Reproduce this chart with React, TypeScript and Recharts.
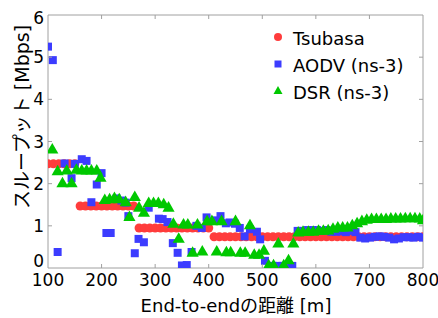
import React from "react";
import { ScatterChart, Scatter, XAxis, YAxis, ReferenceLine } from "recharts";

// ---------- data ----------
const tsubasaX = [
  100, 110, 120, 130, 140, 150, 160, 170, 180, 190, 200, 210, 220, 230, 240, 250, 260, 270, 280, 290,
  300, 310, 320, 330, 340, 350, 360, 370, 380, 390, 400, 410, 420, 430, 440, 450, 460, 470, 480, 490,
  500, 510, 520, 530, 540, 550, 560, 570, 580, 590, 600, 610, 620, 630, 640, 650, 660, 670, 680, 690,
  700, 710, 720, 730, 740, 750, 760, 770, 780, 790, 800,
];
const tsubasaY = [
  2.47, 2.47, 2.47, 2.47, 2.47, 2.47, 1.47, 1.47, 1.47, 1.47, 1.47, 1.47, 1.47, 1.47, 1.47, 1.47, 1.47, 0.95, 0.95, 0.95,
  0.95, 0.95, 0.95, 0.95, 0.95, 0.95, 0.95, 0.95, 0.95, 0.95, 0.95, 0.74, 0.74, 0.74, 0.74, 0.74, 0.74, 0.74, 0.74, 0.74,
  0.74, 0.74, 0.74, 0.74, 0.74, 0.74, 0.74, 0.74, 0.74, 0.74, 0.74, 0.74, 0.74, 0.74, 0.74, 0.74, 0.74, 0.74, 0.74, 0.74,
  0.74, 0.74, 0.74, 0.74, 0.74, 0.74, 0.74, 0.74, 0.74, 0.74, 0.74,
];

const aodvX = [
  100, 109, 118, 131, 144, 150, 163, 172, 181, 191, 200, 209, 217, 228, 237, 245, 250, 262, 269, 279,
  288, 307, 314, 323, 333, 342, 350, 359, 368, 377, 387, 396, 413, 422, 432, 439, 449, 458, 467, 477,
  490, 496, 505, 520, 529, 538, 547, 556, 566, 575, 584, 593, 602, 611, 620, 629, 638, 647, 656, 665,
  674, 683, 692, 701, 710, 719, 728, 737, 746, 755, 764, 773, 782, 791, 800,
];
const aodvY = [
  5.25, 4.93, 0.38, 2.48, 2.13, 2.47, 2.58, 2.54, 1.56, 1.98, 2.25, 0.83, 0.83, 1.65, 1.6, 1.55, 1.23, 0.35, 0.69, 0.61,
  1.43, 1.17, 1.16, 1.09, 0.59, 0.36, 0.06, 0.07, 0.38, 1.0, 0.95, 1.2, 1.13, 1.23, 1.06, 1.08, 1.05, 0.95, 0.75, 0.92,
  0.86, 0.68, 0.17, 0.05, 0.05, 0.05, 0.05, 0.05, 0.88, 0.88, 0.9, 0.9, 0.9, 0.88, 0.9, 0.86, 0.86, 0.87, 0.85, 0.88,
  0.85, 0.72, 0.7, 0.72, 0.74, 0.75, 0.74, 0.72, 0.68, 0.7, 0.73, 0.73, 0.72, 0.74, 0.72,
];

const dsrX = [
  108, 118, 127, 135, 144, 153, 163, 172, 181, 191, 198, 206, 215, 224, 233, 245, 252, 262, 270, 279,
  288, 297, 306, 316, 325, 334, 344, 353, 361, 370, 379, 388, 397, 406, 415, 424, 433, 441, 450, 459,
  468, 477, 485, 494, 503, 512, 521, 530, 540, 549, 558, 567, 576, 586, 595, 605, 614, 623, 632, 641,
  650, 659, 668, 677, 686, 695, 704, 713, 722, 731, 740, 749, 758, 767, 776, 785, 794, 800,
];
const dsrY = [
  2.8, 2.28, 2.0, 2.3, 2.0, 2.32, 2.3, 2.3, 2.3, 2.3, 2.13, 1.6, 1.62, 1.65, 1.62, 1.55, 1.2, 1.67, 1.42, 1.3,
  1.53, 1.53, 1.53, 1.5, 1.42, 1.04, 0.68, 1.02, 1.02, 0.35, 1.02, 0.38, 1.1, 1.1, 0.38, 1.1, 0.36, 0.36, 1.1, 0.35,
  0.35, 1.0, 0.3, 0.3, 0.4, 0.05, 0.05, 0.57, 0.05, 0.17, 0.57, 0.83, 0.85, 0.85, 0.85, 0.87, 0.87, 0.88, 0.92, 0.95,
  0.95, 0.95, 1.0, 1.05, 1.1, 1.13, 1.15, 1.15, 1.15, 1.15, 1.16, 1.16, 1.16, 1.17, 1.17, 1.17, 1.16, 1.12,
];

const xTicks = [100, 200, 300, 400, 500, 600, 700, 800];
const yTicks = [0, 1, 2, 3, 4, 5, 6];

const seriesNames = ["Tsubasa", "AODV (ns-3)", "DSR (ns-3)"];
const seriesColors = ["#ff3c3c", "#3c3cff", "#00c800"];

const toPoints = (xs: number[], ys: number[]) => xs.map((x, i) => ({ x, y: ys[i] }));
const tsubasaData = toPoints(tsubasaX, tsubasaY);
const aodvData = toPoints(aodvX, aodvY);
const dsrData = toPoints(dsrX, dsrY);

// ---------- layout ----------
const W = 438;
const H = 318;
const PLOT = { left: 48, right: 423, top: 15, bottom: 268 };
const FRAME = "#a0a0a0";
const FONT = "'DejaVu Sans', 'Noto Sans CJK JP', sans-serif";
const TICK_LEN = 4;

const XTick = (props: any) => {
  const { x, y, payload } = props;
  const v = payload.value;
  const edge = v === xTicks[0] || v === xTicks[xTicks.length - 1];
  return (
    <g>
      {!edge && (
        <>
          <line x1={x} x2={x} y1={PLOT.bottom} y2={PLOT.bottom - TICK_LEN} stroke={FRAME} />
          <line x1={x} x2={x} y1={PLOT.top} y2={PLOT.top + TICK_LEN} stroke={FRAME} />
        </>
      )}
      <text x={x} y={y} dy="0.71em" textAnchor="middle" fontSize={17} fill="#000" fontFamily={FONT}>
        {v}
      </text>
    </g>
  );
};

const YTick = (props: any) => {
  const { x, y, payload } = props;
  const v = payload.value;
  const edge = v === yTicks[0] || v === yTicks[yTicks.length - 1];
  const dyShift = v === 0 ? -7 : v === 6 ? 3 : 0;
  return (
    <g>
      {!edge && (
        <>
          <line x1={PLOT.left} x2={PLOT.left + TICK_LEN} y1={y} y2={y} stroke={FRAME} />
          <line x1={PLOT.right} x2={PLOT.right - TICK_LEN} y1={y} y2={y} stroke={FRAME} />
        </>
      )}
      <text x={x} y={y + dyShift} dy="0.36em" textAnchor="end" fontSize={17} fill="#000" fontFamily={FONT}>
        {v}
      </text>
    </g>
  );
};

const YLabel = () => (
  <text
    transform="translate(22,117) rotate(-90)"
    textAnchor="middle"
    dominantBaseline="central"
    fontSize={19}
    fontFamily={FONT}
    fill="#000"
  >
    スループット [Mbps]
  </text>
);

const XLabel = () => (
  <text x={236} y={312} textAnchor="middle" fontSize={18} fontFamily={FONT} fill="#000">
    End-to-endの距離 [m]
  </text>
);

const legendRows = [
  { cy: 38 },
  { cy: 65 },
  { cy: 92 },
];

export default function App() {
  return (
    <div style={{ position: "fixed", left: 0, top: 0, width: W, height: H, background: "#fff" }}>
      <ScatterChart
        width={W}
        height={H}
        margin={{ top: PLOT.top, right: W - PLOT.right, bottom: 0, left: 0 }}
        style={{ fontFamily: FONT }}
      >
        <XAxis
          dataKey="x"
          type="number"
          domain={[100, 800]}
          ticks={xTicks}
          allowDataOverflow
          height={H - PLOT.bottom}
          tickSize={0}
          tickMargin={6}
          tickLine={false}
          axisLine={{ stroke: FRAME }}
          tick={<XTick />}
          interval={0}
          label={<XLabel />}
        />
        <YAxis
          dataKey="y"
          type="number"
          domain={[0, 6]}
          ticks={yTicks}
          allowDataOverflow
          width={PLOT.left}
          tickSize={0}
          tickMargin={4}
          tickLine={false}
          axisLine={{ stroke: FRAME }}
          tick={<YTick />}
          interval={0}
          label={<YLabel />}
        />
        <ReferenceLine y={6} stroke={FRAME} />
        <ReferenceLine x={800} stroke={FRAME} />
        <Scatter
          name={seriesNames[0]}
          data={tsubasaData}
          fill={seriesColors[0]}
          shape="circle"
          legendType="circle"
          isAnimationActive={false}
        />
        <Scatter
          name={seriesNames[1]}
          data={aodvData}
          fill={seriesColors[1]}
          shape="square"
          legendType="square"
          isAnimationActive={false}
        />
        <Scatter
          name={seriesNames[2]}
          data={dsrData}
          fill={seriesColors[2]}
          shape="triangle"
          legendType="triangle"
          isAnimationActive={false}
        />
      </ScatterChart>
      <svg
        width={W}
        height={H}
        style={{ position: "absolute", left: 0, top: 0, pointerEvents: "none" }}
      >
        <circle cx={278} cy={legendRows[0].cy - 1} r={4} fill={seriesColors[0]} />
        <rect x={274.5} y={legendRows[1].cy - 4.5} width={7} height={7} fill={seriesColors[1]} />
        <polygon
          points={`278,${legendRows[2].cy - 6} 282.5,${legendRows[2].cy + 2} 273.5,${legendRows[2].cy + 2}`}
          fill={seriesColors[2]}
        />
        {seriesNames.map((n, i) => (
          <text
            key={n}
            x={293}
            y={legendRows[i].cy}
            dominantBaseline="central"
            fontSize={18}
            fontFamily={FONT}
            fill="#000"
          >
            {n}
          </text>
        ))}
      </svg>
    </div>
  );
}
